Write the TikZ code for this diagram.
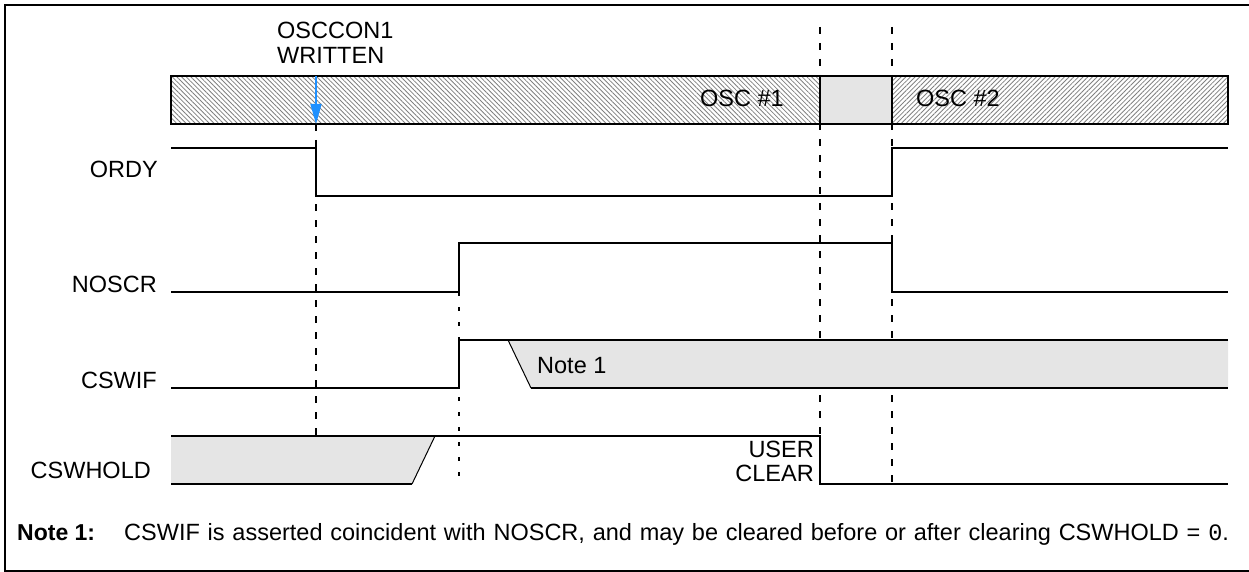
\documentclass[tikz,border=0pt]{standalone}
\usepackage{fontspec}
\setmainfont{Liberation Sans}
\setmonofont{Liberation Mono}
\usetikzlibrary{patterns.meta,arrows.meta}

\begin{document}
\begin{tikzpicture}[x=1pt,y=-1pt,
	sig/.style={line width=2.2pt},
	slant/.style={line width=1pt},
	guide/.style={line width=2pt,dash pattern=on 7pt off 9pt},
	guidefine/.style={line width=1.5pt,dash pattern=on 4pt off 11pt},
	hatchback/.style={pattern={Lines[angle=-45,distance=3.3pt,line width=0.8pt]},pattern color=gray},
	hatchfwd/.style={pattern={Lines[angle=45,distance=3.3pt,line width=0.8pt]},pattern color=gray},
	shade/.style={fill=black!10},
	trig/.style={line width=1.5pt,draw={rgb,255:red,30;green,144;blue,255},-{Triangle[length=20pt,width=11pt]}},
	lbl/.style={inner sep=0pt,font=\fontsize{23.5}{25}\selectfont}]
	\useasboundingbox (0,0) rectangle (1249,572);
	\draw[sig] (1260,571) -- (5,571) -- (5,5) -- (1260,5);

	\draw[sig,hatchback] (171,76) rectangle (820,124);
	\draw[sig,shade] (820,76) rectangle (892,124);
	\draw[sig,hatchfwd] (892,76) rectangle (1228,124);
	\node[lbl,anchor=base] (osca) at (742,107) {OSC \#1};
	\node[lbl,anchor=base west] (oscb) at (916,107) {OSC \#2};

	\node[lbl,anchor=north west,align=left] (written) at (277,22) {OSCCON1\\WRITTEN};
	\draw[trig] (316,76) -- (316,124);

	\draw[guide] (316,124) -- (316,486);
	\draw[guide] (820,27) -- (820,486);
	\draw[guide] (892,27) -- (892,486);
	\draw[guidefine] (459,292) -- (459,486);

	\node[lbl,anchor=base east] (ordy) at (158,178) {ORDY};
	\draw[sig] (171,148) -- (316,148) -- (316,196) -- (892,196) -- (892,148) -- (1228,148);

	\node[lbl,anchor=base east] (noscr) at (157,292) {NOSCR};
	\draw[sig] (171,292) -- (459,292) -- (459,243) -- (892,243) -- (892,292) -- (1228,292);

	\node[lbl,anchor=base east] (cswif) at (157,388) {CSWIF};
	\fill[shade] (508,340) -- (1228,340) -- (1228,388) -- (531,388) -- cycle;
	\draw[sig] (171,388) -- (459,388) -- (459,340) -- (1228,340);
	\draw[sig] (531,388) -- (1228,388);
	\draw[slant] (508,340) -- (531,388);
	\node[lbl,anchor=base west] (note) at (537,373) {Note 1};

	\node[lbl,anchor=base east] (cswhold) at (151,478) {CSWHOLD};
	\fill[shade] (171,436) -- (435,436) -- (412,484) -- (171,484) -- cycle;
	\draw[sig] (171,436) -- (820,436) -- (820,484) -- (1228,484);
	\draw[sig] (171,484) -- (412,484);
	\draw[slant] (412,484) -- (435,436);
	\node[lbl,anchor=base east] (user) at (814,457) {USER};
	\node[lbl,anchor=base east] (clear) at (814,481) {CLEAR};

	\node[lbl,anchor=base west,font=\fontsize{23}{25}\selectfont] (notehead) at (17,540) {\textbf{Note 1:}};
	\node[lbl,anchor=base west] (notetext) at (124,540) {\spaceskip=7.8pt CSWIF is asserted coincident with NOSCR, and may be cleared before or after clearing CSWHOLD = \texttt{0}.};
\end{tikzpicture}
\end{document}
